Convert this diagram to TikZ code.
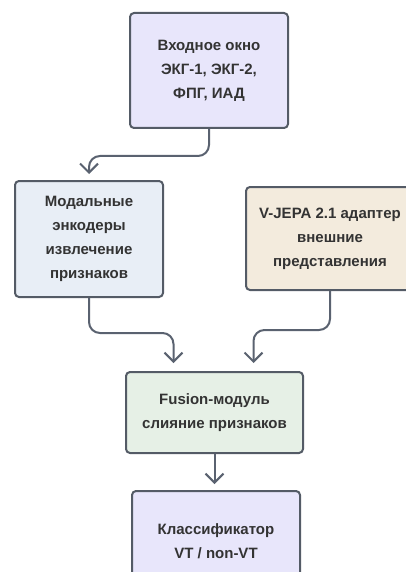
\documentclass[tikz,border=0pt]{standalone}
\usepackage{fontspec}
\setmainfont{Liberation Sans}
\usetikzlibrary{arrows.meta}
\definecolor{bordc}{HTML}{545B66}
\definecolor{arrc}{HTML}{5A6270}
\definecolor{txtc}{HTML}{333333}
\definecolor{lav}{HTML}{E8E6FB}
\definecolor{lblue}{HTML}{E8EEF6}
\definecolor{beige}{HTML}{F3EBDD}
\definecolor{lgreen}{HTML}{E6F0E6}
\tikzset{
  box/.style={draw=bordc, line width=2pt, rounded corners=4pt, align=center,
    text=txtc, font=\fontsize{15}{24}\selectfont\bfseries, inner sep=0pt},
  conn/.style={draw=arrc, line width=2pt, rounded corners=11pt,
    -{Straight Barb[length=9pt,width=18pt]}, shorten >=6pt}
}
\begin{document}
\begin{tikzpicture}[x=1pt,y=-1pt]
\useasboundingbox (0,0) rectangle (406,572);
\clip (0,0) rectangle (406,572);
\node[box, fill=lav, minimum width=158pt, minimum height=115pt] (b1) at (209,70.5)
  {Входное окно\\ЭКГ-1, ЭКГ-2,\\ФПГ, ИАД};
\node[box, fill=lblue, minimum width=148pt, minimum height=116pt] (b2) at (89,239)
  {Модальные\\энкодеры\\извлечение\\признаков};
\node[box, fill=beige, minimum width=168pt, minimum height=103pt] (b3) at (330,238.5)
  {V-JEPA 2.1 адаптер\\внешние\\представления};
\node[box, fill=lgreen, minimum width=177pt, minimum height=81pt] (b4) at (214.5,412.5)
  {Fusion-модуль\\слияние признаков};
\node[box, fill=lav, minimum width=168pt, minimum height=100pt] (b5) at (216,541)
  {Классификатор\\VT / non-VT};
\draw[conn] (b1.south) -- ++(0,27) -| (b2.north);
\draw[conn, shorten >=8pt] (b2.south) -- ++(0,35) -| ([xshift=-41pt]b4.north);
\draw[conn, shorten >=8pt] (b3.south) -- ++(0,39) -| ([xshift=39pt]b4.north);
\draw[conn] (b4.south) -- (b4.south |- b5.north);
\end{tikzpicture}
\end{document}
